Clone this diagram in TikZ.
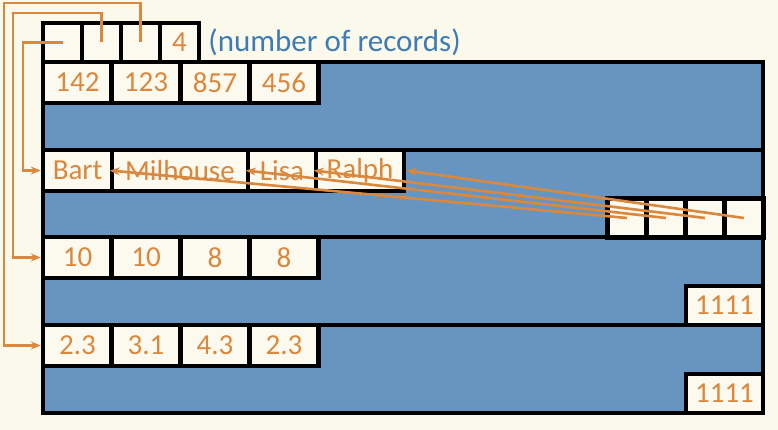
\documentclass[tikz,border=0pt]{standalone}
\usepackage{fontspec}
\setmainfont{Carlito}
\usepackage{tikz}
\usetikzlibrary{arrows.meta, positioning}
\usepackage{xcolor}
\definecolor{bgcream}{RGB}{251, 248, 236}
\definecolor{cellcream}{RGB}{252, 249, 239}
\definecolor{pageblue}{RGB}{103, 149, 192}
\definecolor{recorange}{RGB}{217, 136, 62}
\definecolor{labelblue}{RGB}{63, 124, 180}
\tikzstyle{cell} = [rectangle, draw=black, line width=4.5pt, fill=cellcream, text=recorange, inner sep=0pt, minimum width=69pt, minimum height=41pt, font=\fontsize{29}{32}\selectfont]
\tikzstyle{slot} = [cell, minimum width=39pt, minimum height=39pt]
\tikzstyle{border} = [draw=black, line width=4.5pt]
\tikzstyle{ptr} = [line width=2.6pt, ->, >={Stealth[length=10pt,width=8pt]}, recorange]

\begin{document}
\begin{tikzpicture}[x=1pt, y=-1pt]
\useasboundingbox (0,0) rectangle (778,430);
\fill[bgcream] (0,0) rectangle (778,430);

% Page with its sections
\draw[border, fill=pageblue] (43,62) rectangle (763,413);
\foreach \y in {150,237,325}
    \draw[border] (43,\y) -- (763,\y);

% Header
\node[slot] (slotA) at (62.5,42.5) {};
\node[slot] (slotB) at (101.5,42.5) {};
\node[slot] (slotC) at (140.5,42.5) {};
\node[slot] (count) at (179.5,42.5) {4};
\node[right=7pt of count, inner sep=0pt, text=labelblue, font=\fontsize{31}{34}\selectfont] (note) {(number of records)};

% Ids
\node[cell] (idA) at (77.5,82.5) {142};
\node[cell] (idB) at (146,82.5) {123};
\node[cell] (idC) at (215,82.5) {857};
\node[cell] (idD) at (284,82.5) {456};

% Names
\node[cell] (bart) at (77.5,170.5) {Bart};
\node[cell, minimum width=136pt] (milhouse) at (180,170.5) {Milhouse};
\node[cell, minimum width=68pt] (lisa) at (282,170.5) {Lisa};
\node[cell, minimum width=88pt] (ralph) at (360,170.5) {Ralph};
\node[slot] (offA) at (627,218) {};
\node[slot] (offB) at (666,218) {};
\node[slot] (offC) at (705,218) {};
\node[slot] (offD) at (744,218) {};

% Ages
\node[cell] (ageA) at (77.5,257.5) {10};
\node[cell] (ageB) at (146,257.5) {10};
\node[cell] (ageC) at (215,257.5) {8};
\node[cell] (ageD) at (284,257.5) {8};
\node[slot, minimum width=77pt] (endA) at (724.5,305.5) {1111};

% Grades
\node[cell] (gpaA) at (77.5,345.5) {2.3};
\node[cell] (gpaB) at (146,345.5) {3.1};
\node[cell] (gpaC) at (215,345.5) {4.3};
\node[cell] (gpaD) at (284,345.5) {2.3};
\node[slot, minimum width=77pt] (endB) at (724.5,393.5) {1111};

% Section pointers
\draw[ptr] (slotA.center) -- (23,42.5) |- (bart.west);
\draw[ptr] (slotB.center) |- (13,13) |- (ageA.west);
\draw[ptr] (slotC.center) |- (4,3) |- (gpaA.west);

% String offsets
\draw[ptr] (offA.center) -- (milhouse.west);
\draw[ptr] (offB.center) -- (lisa.west);
\draw[ptr] (offC.center) -- (ralph.west);
\draw[ptr] (offD.center) -- (ralph.east);
\end{tikzpicture}
\end{document}
